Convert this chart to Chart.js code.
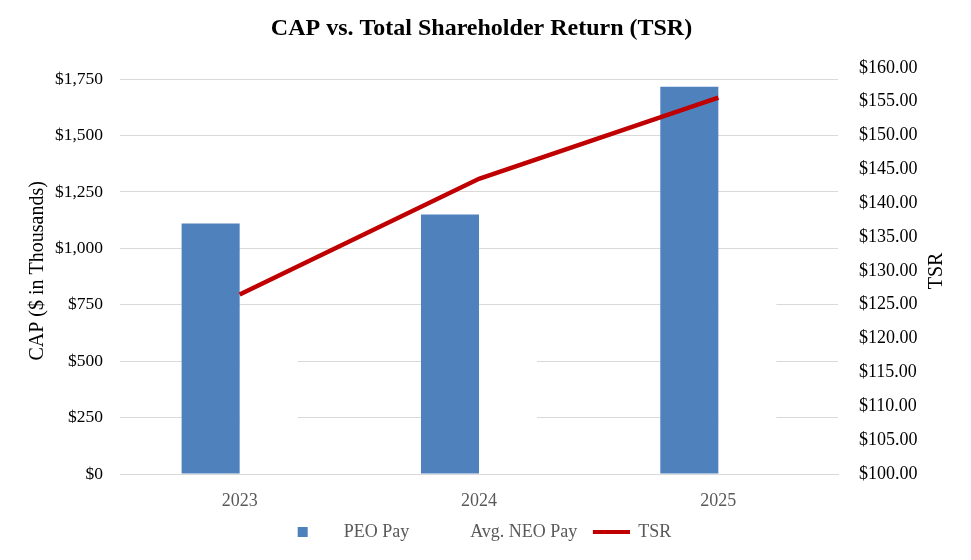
<!DOCTYPE html>
<html>
<head>
<meta charset="utf-8">
<script src="https://cdn.jsdelivr.net/npm/chart.js@4"></script>
<style>
  html, body { margin: 0; padding: 0; background: #ffffff; }
  #wrap { width: 971px; height: 560px; }
</style>
</head>
<body>
<div id="wrap"><canvas id="c" width="971" height="560"></canvas></div>
<script>
const categories = ['2023', '2024', '2025'];
const peoPay = [1110, 1150, 1716];
const neoPay = [640, 660, 890];
const tsr = [126.5, 143.6, 155.6];
const leftTicks = [0, 250, 500, 750, 1000, 1250, 1500, 1750];
const titleText = 'CAP vs. Total Shareholder Return (TSR)';
const leftTitle = 'CAP ($ in Thousands)';
const rightTitle = 'TSR';
const seriesNames = ['PEO Pay', 'Avg. NEO Pay', 'TSR'];

const FONT = 'Liberation Serif';
const BLUE = '#4f81bd';
const RED = '#c00000';

function makeImg(w, h, draw) {
  const c = document.createElement('canvas');
  c.width = w; c.height = h;
  draw(c.getContext('2d'));
  return c;
}
const peoMarker = makeImg(43, 10, g => { g.fillStyle = BLUE; g.fillRect(6, 0, 10, 10); });
const neoMarker = makeImg(43, 10, g => { g.fillStyle = '#ffffff'; g.fillRect(6, 0, 10, 10); });
const tsrMarker = makeImg(44, 4, g => { g.fillStyle = RED; g.fillRect(7, 0, 37, 4); });
const markers = [peoMarker, neoMarker, tsrMarker];

const rightTitlePlugin = {
  id: 'rightTitle',
  afterDraw(chart) {
    const s = chart.scales.y1;
    const ca = chart.chartArea;
    const ctx = chart.ctx;
    ctx.save();
    ctx.translate(s.right - 15, (ca.top + ca.bottom) / 2);
    ctx.rotate(-Math.PI / 2);
    ctx.fillStyle = '#000000';
    ctx.font = '20px "' + FONT + '"';
    ctx.textAlign = 'center';
    ctx.textBaseline = 'middle';
    ctx.fillText(rightTitle, 0, 0);
    ctx.restore();
  }
};

new Chart(document.getElementById('c'), {
  data: {
    labels: categories,
    datasets: [
      { type: 'line', label: seriesNames[2], data: tsr, yAxisID: 'y1',
        borderColor: RED, backgroundColor: RED, borderWidth: 4.5,
        pointRadius: 0, tension: 0, order: 0 },
      { type: 'bar', label: seriesNames[0], data: peoPay, yAxisID: 'y',
        backgroundColor: BLUE, categoryPercentage: 0.485, barPercentage: 1, order: 1 },
      { type: 'bar', label: seriesNames[1], data: neoPay, yAxisID: 'y',
        backgroundColor: '#ffffff', categoryPercentage: 0.485, barPercentage: 1, order: 1 }
    ]
  },
  options: {
    responsive: false,
    animation: false,
    layout: { padding: { left: 11, right: 19, top: 0, bottom: 9 } },
    plugins: {
      tooltip: { enabled: false },
      title: {
        display: true, text: titleText, color: '#000000',
        font: { family: FONT, size: 24, weight: 'bold' },
        padding: { top: 14, bottom: 25 }
      },
      legend: {
        position: 'bottom',
        labels: {
          color: '#595959',
          font: { family: FONT, size: 18 },
          usePointStyle: true,
          pointStyleWidth: 43,
          padding: 9,
          generateLabels(chart) {
            return seriesNames.map((n, i) => ({
              text: n, pointStyle: markers[i], fillStyle: 'rgba(0,0,0,0)',
              strokeStyle: 'rgba(0,0,0,0)', lineWidth: 0, hidden: false,
              fontColor: '#595959', datasetIndex: i
            }));
          }
        }
      }
    },
    scales: {
      x: {
        z: 1,
        grid: { display: true, color: 'rgba(0,0,0,0)', drawTicks: false },
        border: { display: true, color: '#d9d9d9', width: 1 },
        ticks: { color: '#595959', font: { family: FONT, size: 18 }, padding: 16 },
        afterFit(s) { s.height = 40; }
      },
      y: {
        position: 'left', min: 0, max: 1800,
        afterBuildTicks(s) { s.ticks = leftTicks.map(v => ({ value: v })); },
        grid: { color: '#d9d9d9', lineWidth: 1, drawTicks: false },
        border: { display: false },
        ticks: {
          color: '#000000', font: { family: FONT, size: 17.5 }, padding: 17,
          callback: v => '$' + Number(v).toLocaleString('en-US')
        },
        title: { display: true, text: leftTitle, color: '#000000',
          font: { family: FONT, size: 20 }, padding: { top: 15, bottom: 0 } },
        afterFit(s) { s.width = 109; }
      },
      y1: {
        position: 'right', min: 100, max: 160,
        grid: { display: false, drawOnChartArea: false, drawTicks: false },
        border: { display: false },
        ticks: {
          stepSize: 5, color: '#000000', font: { family: FONT, size: 18 }, padding: 21,
          callback: v => '$' + Number(v).toFixed(2)
        },
        afterFit(s) { s.width = 114; }
      }
    }
  },
  plugins: [rightTitlePlugin]
});
</script>
</body>
</html>
